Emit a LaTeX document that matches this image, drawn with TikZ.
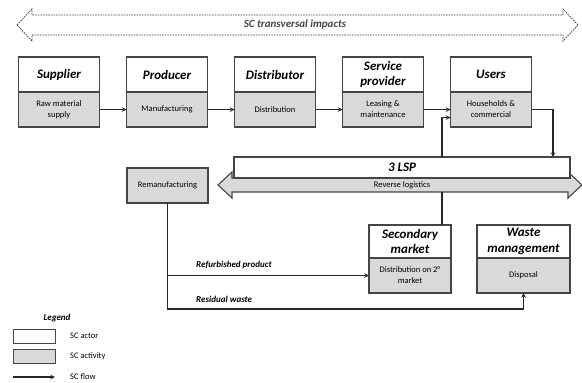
\documentclass[tikz,border=0pt]{standalone}
\usepackage{fontspec}
\setmainfont{Carlito}
\usetikzlibrary{positioning,calc}
\definecolor{boxline}{HTML}{454545}
\definecolor{actfill}{HTML}{D9D9D9}
\tikzset{actor/.style={draw=boxline,line width=1.1pt,fill=white,outer sep=0pt,inner sep=1pt,minimum width=81pt,minimum height=35pt,align=center,font=\bfseries\itshape\fontsize{13}{15.5}\selectfont},
         activity/.style={draw=boxline,line width=1.1pt,fill=actfill,outer sep=0pt,inner sep=1pt,minimum width=81pt,minimum height=35pt,align=center,font=\fontsize{8.5}{11}\selectfont},
         flowtext/.style={font=\bfseries\itshape\fontsize{9}{10}\selectfont,inner sep=0pt},
         legtext/.style={font=\fontsize{8.5}{10}\selectfont,anchor=west,inner sep=0pt}
}
\tikzstyle{arrow} = [line width=1.1pt,draw=black!85,->,>=stealth]

\begin{document}
\begin{tikzpicture}[x=1pt,y=-1pt]
\useasboundingbox (0,0) rectangle (582,383);

% transversal impacts
\draw[boxline,dash pattern=on 1.6pt off 1pt,line width=0.8pt] (17,25)--(32,9)--(32,15)--(563,15)--(563,9)--(578,25)--(563,41)--(563,35)--(32,35)--(32,41)--cycle;
\node[flowtext,font=\bfseries\itshape\fontsize{11}{12}\selectfont,text=boxline] (impacts) at (295,25) {SC transversal impacts};

% main chain
\node[actor] (supplier) at (59,74.5) {Supplier};
\node[activity,below=0pt of supplier] (rawmat) {Raw material\\supply};
\node[actor,right=27pt of supplier] (producer) {Producer};
\node[activity,below=0pt of producer] (manuf) {Manufacturing};
\node[actor,right=27pt of producer] (distributor) {Distributor};
\node[activity,below=0pt of distributor] (distrib) {Distribution};
\node[actor,right=27pt of distributor] (service) {Service\\provider};
\node[activity,below=0pt of service] (leasing) {Leasing \&\\maintenance};
\node[actor,right=27pt of service] (users) {Users};
\node[activity,below=0pt of users] (house) {Households \&\\commercial};

% reverse logistics
\draw[boxline,fill=actfill,line width=1.1pt] (218,185)--(232,172)--(232,178)--(568,178)--(568,172)--(582,185)--(568,198)--(568,192)--(232,192)--(232,198)--cycle;
\node[font=\fontsize{8.5}{10}\selectfont,inner sep=0pt] (revlog) at (402,185.5) {Reverse logistics};
\node[actor,minimum width=336pt,minimum height=21pt,font=\bfseries\itshape\fontsize{13}{14}\selectfont] (lsp) at (402,167.5) {3 LSP};
\coordinate (tap) at (442,192);

\node[activity] (reman) at (167.5,185.5) {Remanufacturing};

\node[actor,minimum width=82pt,minimum height=33pt] (secondary) at (410,241.5) {Secondary\\market};
\node[activity,minimum width=82pt,below=0pt of secondary] (distsec) {Distribution on 2°\\market};
\node[actor,minimum width=93pt,minimum height=33pt,right=26pt of secondary] (waste) {Waste\\management};
\node[activity,minimum width=93pt,below=0pt of waste] (disposal) {Disposal};

\draw[arrow] (rawmat)--(manuf);
\draw[arrow] (manuf)--(distrib);
\draw[arrow] (distrib)--(leasing);
\draw[arrow] (leasing)--(house);
\draw[arrow] (tap |- lsp.north) |- ($(house.west)+(0,8)$);
\draw[arrow] (house.east) -| ($(lsp.north east)+(-17,0)$);
\draw[line width=1.1pt,draw=black!85] (tap) -- (tap |- secondary.north);
\draw[arrow] (reman.south) |- ($(disposal.south)+(0,16)$) -- (disposal.south);
\draw[arrow] (reman.south |- distsec.west) -- (distsec.west);
\node[flowtext,anchor=west] (refurb) at (196,265) {Refurbished product};
\node[flowtext,anchor=west] (residual) at (196,299) {Residual waste};

% legend
\node[flowtext] (legend) at (57,318) {Legend};
\node[draw=boxline,line width=1pt,fill=white,minimum width=42pt,minimum height=14pt,inner sep=0pt] (legactor) at (34,336) {};
\node[draw=boxline,line width=1pt,fill=actfill,minimum width=42pt,minimum height=14pt,inner sep=0pt] (legact) at (34,356) {};
\coordinate (flowa) at (13,377);
\coordinate (flowb) at (55,377);
\draw[arrow] (flowa)--(flowb);
\node[legtext] (tactor) at (70,336) {SC actor};
\node[legtext] (tact) at (70,356) {SC activity};
\node[legtext] (tflow) at (70,377) {SC flow};

\end{tikzpicture}
\end{document}
